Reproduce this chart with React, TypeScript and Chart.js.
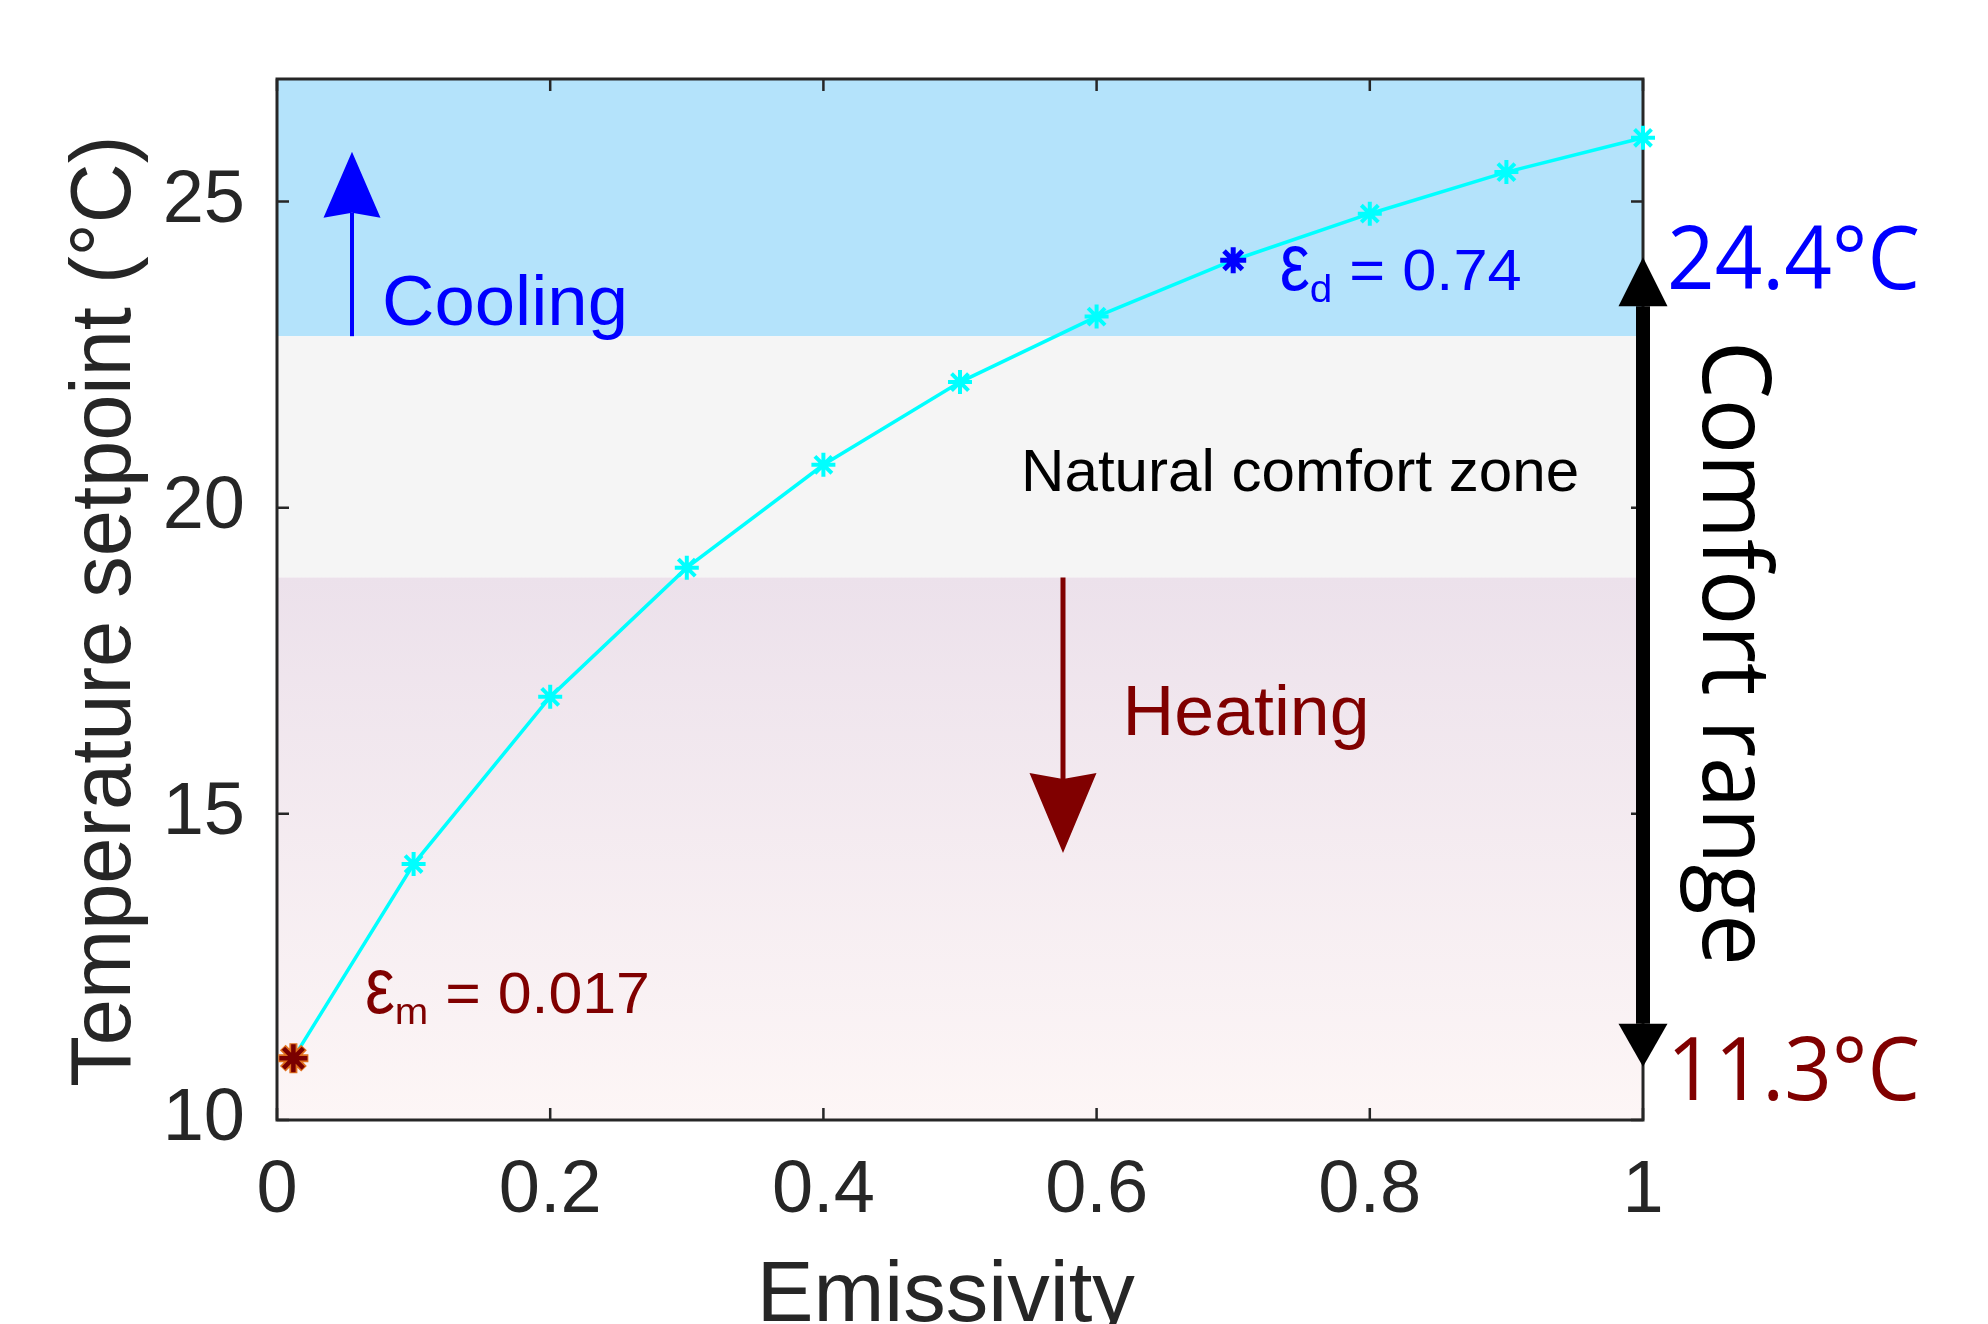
import React, { useEffect, useRef } from "react";
import { Chart, registerables } from "chart.js";

Chart.register(...registerables);

// ---- data ----
const emissivity = [0.012, 0.1, 0.2, 0.3, 0.4, 0.5, 0.6, 0.7, 0.8, 0.9, 1.0];
const setpoint = [11.01, 14.18, 16.91, 19.02, 20.7, 22.05, 23.12, 24.04, 24.8, 25.48, 26.04];
const minEmissivityPoint = [{ x: 0.012, y: 11.01 }];
const designPoint = [{ x: 0.7, y: 24.04 }];
const xTickValues = [0, 0.2, 0.4, 0.6, 0.8, 1];
const yTickValues = [10, 15, 20, 25];
const xRange = [0, 1];
const yRange = [10, 27];
const coolingBand = [22.8, 27];
const neutralBand = [18.86, 22.8];
const heatingBand = [10, 18.86];
const coolingArrow = { x: 0.0549, from: 22.8, to: 25.81 };
const heatingArrow = { x: 0.5754, from: 18.86, to: 14.36 };
const comfortArrow = { x: 1, top: 24.09, bottom: 10.87 };

const FONT_ARIAL = '"Liberation Sans", Arial, sans-serif';
const FONT_CAL = '"Open Sans", "Noto Sans", sans-serif';
const AXIS_COLOR = "#262626";
const BLUE = "#0000ff";
const DARK_RED = "#800000";

function fitText(ctx: CanvasRenderingContext2D, text: string, x: number, y: number, size: number, family: string, color: string, width: number, align: "left" | "center" = "left") {
  ctx.save();
  ctx.font = `${size}px ${family}`;
  ctx.fillStyle = color;
  ctx.textBaseline = "alphabetic";
  ctx.textAlign = "left";
  const w = ctx.measureText(text).width;
  const s = width / w;
  const startX = align === "center" ? x - width / 2 : x;
  ctx.translate(startX, y);
  ctx.scale(s, 1);
  ctx.fillText(text, 0, 0);
  ctx.restore();
}

function epsLabel(ctx: CanvasRenderingContext2D, sub: string, rest: string, x: number, y: number, size: number, color: string, width: number) {
  ctx.save();
  ctx.fillStyle = color;
  ctx.textBaseline = "alphabetic";
  ctx.textAlign = "left";
  const subSize = size * 0.66;
  ctx.font = `${size}px ${FONT_ARIAL}`;
  const w1 = ctx.measureText("\u03b5").width * 1.1;
  const w3 = ctx.measureText(rest).width;
  ctx.font = `${subSize}px ${FONT_ARIAL}`;
  const w2 = ctx.measureText(sub).width;
  const s = width / (w1 + w2 + w3);
  ctx.translate(x, y);
  ctx.scale(s, 1);
  // tall epsilon (cap height)
  ctx.save();
  ctx.scale(1.1, 1.4);
  ctx.font = `${size}px ${FONT_ARIAL}`;
  ctx.fillText("\u03b5", 0, 0);
  ctx.restore();
  ctx.font = `${subSize}px ${FONT_ARIAL}`;
  ctx.fillText(sub, w1, size * 0.2);
  ctx.font = `${size}px ${FONT_ARIAL}`;
  ctx.fillText(rest, w1 + w2, 0);
  ctx.restore();
}

function arrow(ctx: CanvasRenderingContext2D, x: number, yStart: number, yTip: number, shaftW: number, headLen: number, headW: number, color: string, notch: number) {
  const dir = yTip < yStart ? -1 : 1;
  const baseY = yTip - dir * headLen;
  ctx.save();
  ctx.strokeStyle = color;
  ctx.fillStyle = color;
  ctx.lineWidth = shaftW;
  ctx.lineCap = "butt";
  ctx.beginPath();
  ctx.moveTo(x, yStart);
  ctx.lineTo(x, baseY + dir * notch);
  ctx.stroke();
  ctx.beginPath();
  ctx.moveTo(x, yTip);
  ctx.lineTo(x - headW / 2, baseY);
  ctx.lineTo(x, baseY + dir * notch);
  ctx.lineTo(x + headW / 2, baseY);
  ctx.closePath();
  ctx.fill();
  ctx.restore();
}

const annotationPlugin = {
  id: "annotations",
  beforeDatasetsDraw(chart: any) {
    const ctx: CanvasRenderingContext2D = chart.ctx;
    const xs = chart.scales.x;
    const ys = chart.scales.y;
    const { left, right, top, bottom } = chart.chartArea;
    const w = right - left;
    ctx.save();
    // bands
    let y0 = ys.getPixelForValue(coolingBand[1]);
    let y1 = ys.getPixelForValue(coolingBand[0]);
    ctx.fillStyle = "#b4e3fb";
    ctx.fillRect(left, y0, w, y1 - y0);
    y0 = ys.getPixelForValue(neutralBand[1]);
    y1 = ys.getPixelForValue(neutralBand[0]);
    ctx.fillStyle = "#f5f5f5";
    ctx.fillRect(left, y0, w, y1 - y0);
    y0 = ys.getPixelForValue(heatingBand[1]);
    y1 = ys.getPixelForValue(heatingBand[0]);
    const g = ctx.createLinearGradient(0, y0, 0, y1);
    g.addColorStop(0, "#ece1eb");
    g.addColorStop(1, "#fdf6f6");
    ctx.fillStyle = g;
    ctx.fillRect(left, y0, w, y1 - y0);

    // box
    ctx.strokeStyle = AXIS_COLOR;
    ctx.lineWidth = 3;
    ctx.strokeRect(left, top, w, bottom - top);
    // inward ticks
    const tl = 12;
    ctx.lineWidth = 2.5;
    ctx.beginPath();
    xTickValues.forEach((v) => {
      const p = xs.getPixelForValue(v);
      ctx.moveTo(p, bottom);
      ctx.lineTo(p, bottom - tl);
      ctx.moveTo(p, top);
      ctx.lineTo(p, top + tl);
    });
    yTickValues.forEach((v) => {
      const p = ys.getPixelForValue(v);
      ctx.moveTo(left, p);
      ctx.lineTo(left + tl, p);
      ctx.moveTo(right, p);
      ctx.lineTo(right - tl, p);
    });
    ctx.stroke();
    ctx.restore();
  },
  afterDatasetsDraw(chart: any) {
    const ctx: CanvasRenderingContext2D = chart.ctx;
    const xs = chart.scales.x;
    const ys = chart.scales.y;
    const X = (v: number) => xs.getPixelForValue(v);
    const Y = (v: number) => ys.getPixelForValue(v);

    // arrows
    arrow(ctx, X(coolingArrow.x), Y(coolingArrow.from), Y(coolingArrow.to), 4, 66, 57, BLUE, 5);
    arrow(ctx, X(heatingArrow.x), Y(heatingArrow.from), Y(heatingArrow.to), 5, 80, 67, DARK_RED, 6);
    const cx = X(comfortArrow.x);
    const midY = (Y(comfortArrow.top) + Y(comfortArrow.bottom)) / 2;
    arrow(ctx, cx, midY, Y(comfortArrow.top), 14, 49, 49, "#000000", 0);
    arrow(ctx, cx, midY, Y(comfortArrow.bottom), 14, 43, 49, "#000000", 0);

    // texts
    fitText(ctx, "Cooling", X(0.0769), Y(22.98), 70, FONT_ARIAL, BLUE, 246);
    epsLabel(ctx, "d", " = 0.74", X(0.734), Y(23.55), 58, BLUE, 242);
    fitText(ctx, "Natural comfort zone", X(0.5447), Y(20.27), 60, FONT_ARIAL, "#000000", 558);
    fitText(ctx, "Heating", X(0.619), Y(16.29), 70, FONT_ARIAL, DARK_RED, 247);
    epsLabel(ctx, "m", " = 0.017", X(0.0644), Y(11.75), 57, DARK_RED, 285);
    fitText(ctx, "24.4\u00b0C", X(1.0176), Y(23.57), 88, FONT_CAL, BLUE, 253);
    fitText(ctx, "11.3\u00b0C", X(1.0176), Y(10.33), 88, FONT_CAL, DARK_RED, 253);

    // Comfort range (rotated clockwise)
    ctx.save();
    ctx.translate(X(1.0439), Y(17.62));
    ctx.rotate(Math.PI / 2);
    fitText(ctx, "Comfort range", 0, 0, 96, FONT_CAL, "#000000", 625, "center");
    ctx.restore();

    // axis titles
    ctx.save();
    ctx.translate(130, Y(18.31));
    ctx.rotate(-Math.PI / 2);
    fitText(ctx, "Temperature setpoint (\u00b0C)", 0, 0, 86, FONT_ARIAL, AXIS_COLOR, 951, "center");
    ctx.restore();
    fitText(ctx, "Emissivity", X(0.4896), 1321, 85, FONT_ARIAL, AXIS_COLOR, 378, "center");
  },
};

export default function App() {
  const ref = useRef<HTMLCanvasElement | null>(null);
  useEffect(() => {
    if (!ref.current) return;
    const chart = new Chart(ref.current, {
      type: "line",
      data: {
        datasets: [
          {
            label: "setpoint",
            data: emissivity.map((x, i) => ({ x, y: setpoint[i] })),
            borderColor: "#00ffff",
            borderWidth: 3.5,
            pointStyle: "star",
            pointRadius: emissivity.map((x) => (x < 0.05 || Math.abs(x - 0.7) < 1e-6 ? 0 : 12)),
            pointBorderWidth: 4,
            pointBorderColor: "#00ffff",
            pointBackgroundColor: "#00ffff",
            tension: 0,
            clip: false,
            order: 3,
          },
          {
            label: "min",
            data: minEmissivityPoint,
            showLine: false,
            pointStyle: "star",
            pointRadius: 15,
            pointBorderWidth: 8,
            pointBorderColor: "#e0701e",
            pointBackgroundColor: "#e0701e",
            clip: false,
            order: 2,
          },
          {
            label: "min-core",
            data: minEmissivityPoint,
            showLine: false,
            pointStyle: "star",
            pointRadius: 14,
            pointBorderWidth: 4.5,
            pointBorderColor: "#7a0000",
            pointBackgroundColor: "#7a0000",
            clip: false,
            order: 1,
          },
          {
            label: "design",
            data: designPoint,
            showLine: false,
            pointStyle: "star",
            pointRadius: 13,
            pointBorderWidth: 5,
            pointBorderColor: "#0000ff",
            pointBackgroundColor: "#0000ff",
            clip: false,
            order: 0,
          },
        ],
      },
      options: {
        animation: false,
        responsive: false,
        devicePixelRatio: 1,
        events: [],
        layout: { padding: { left: 0, top: 79, right: 345, bottom: 0 } },
        plugins: { legend: { display: false }, tooltip: { enabled: false } },
        scales: {
          x: {
            type: "linear",
            min: xRange[0],
            max: xRange[1],
            grid: { display: false, drawTicks: false },
            border: { display: false },
            afterBuildTicks: (s: any) => {
              s.ticks = xTickValues.map((v) => ({ value: v }));
            },
            afterFit: (s: any) => {
              s.height = 204;
            },
            ticks: {
              padding: 27,
              color: AXIS_COLOR,
              font: { family: FONT_ARIAL, size: 74 },
              maxRotation: 0,
              autoSkip: false,
              callback: (v: any) => String(v),
            },
          },
          y: {
            type: "linear",
            min: yRange[0],
            max: yRange[1],
            grid: { display: false, drawTicks: false },
            border: { display: false },
            afterBuildTicks: (s: any) => {
              s.ticks = yTickValues.map((v) => ({ value: v }));
            },
            afterFit: (s: any) => {
              s.width = 277;
            },
            ticks: {
              padding: 32,
              color: AXIS_COLOR,
              font: { family: FONT_ARIAL, size: 74 },
              autoSkip: false,
              callback: (v: any) => String(v),
            },
          },
        },
      },
      plugins: [annotationPlugin],
    });
    return () => chart.destroy();
  }, []);
  return (
    <div style={{ position: "absolute", left: 0, top: 0, width: 1988, height: 1324, background: "#fff" }}>
      <canvas ref={ref} width={1988} height={1324} style={{ display: "block" }} />
    </div>
  );
}
